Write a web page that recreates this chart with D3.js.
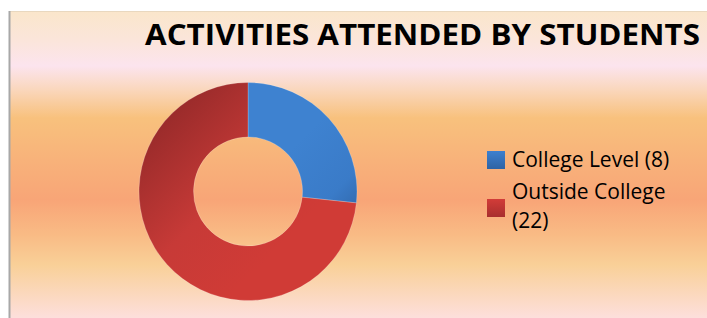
<!DOCTYPE html>
<html>
<head>
<meta charset="utf-8">
<script src="https://cdn.jsdelivr.net/npm/d3@7"></script>
<style>
  html, body { margin: 0; padding: 0; background: #fff; }
  svg { display: block; }
</style>
</head>
<body>
<div id="chart"></div>
<script>
const title = 'ACTIVITIES ATTENDED BY STUDENTS';
const categories = ['College Level', 'Outside College'];
const values = [8, 22];
const colors = [
  ['#3e82d0', '#3a7bc8', '#2c5f9f'],
  ['#942929', '#c73a37', '#d03b36']
];

const width = 707, height = 318;
const cx = 248, cy = 191.5, outerR = 109, innerR = 54.5;

const svg = d3.select('#chart').append('svg')
  .attr('width', width)
  .attr('height', height);

const defs = svg.append('defs');

// background band gradient (absolute y positions)
const bg = defs.append('linearGradient')
  .attr('id', 'bg')
  .attr('gradientUnits', 'userSpaceOnUse')
  .attr('x1', 0).attr('y1', 11).attr('x2', 0).attr('y2', 318);
[[11, '#fae6cb'], [40, '#fbe5da'], [66, '#fce4ee'], [88, '#fad8c0'],
 [118, '#f8c17d'], [160, '#f8b27a'], [200, '#f8a577'], [235, '#f9bb85'],
 [265, '#f9d098'], [318, '#fddfdc']].forEach(s => {
  bg.append('stop').attr('offset', (s[0] - 11) / 307).attr('stop-color', s[1]);
});

// slice gradients, in the pie group's coords (centre at 0,0)
colors.forEach((c, i) => {
  const g = defs.append('linearGradient')
    .attr('id', 'slice' + i)
    .attr('gradientUnits', 'userSpaceOnUse')
    .attr('x1', -outerR).attr('y1', -outerR)
    .attr('x2', outerR).attr('y2', outerR);
  if (i === 0) {
    g.append('stop').attr('offset', 0.5).attr('stop-color', c[0]);
    g.append('stop').attr('offset', 0.7).attr('stop-color', c[1]);
    g.append('stop').attr('offset', 0.85).attr('stop-color', c[2]);
  } else {
    g.append('stop').attr('offset', 0.1).attr('stop-color', c[0]);
    g.append('stop').attr('offset', 0.45).attr('stop-color', c[1]);
    g.append('stop').attr('offset', 0.7).attr('stop-color', c[2]);
  }
});

// chart area
svg.append('rect')
  .attr('x', 9).attr('y', 11)
  .attr('width', width - 9).attr('height', height - 11)
  .attr('fill', 'url(#bg)');
svg.append('line')
  .attr('x1', 9).attr('x2', width).attr('y1', 11.5).attr('y2', 11.5)
  .attr('stroke', '#e9d8bf').attr('stroke-width', 1);
svg.append('line')
  .attr('x1', 9.5).attr('x2', 9.5).attr('y1', 11).attr('y2', height)
  .attr('stroke', '#a8a8a8').attr('stroke-width', 2);

svg.append('text')
  .attr('x', 145).attr('y', 45)
  .attr('font-family', '"Open Sans", "Liberation Sans", sans-serif')
  .attr('font-weight', 'bold')
  .attr('font-size', 28)
  .attr('textLength', 555)
  .attr('lengthAdjust', 'spacingAndGlyphs')
  .attr('fill', '#000')
  .text(title);

const pie = d3.pie().sort(null).value(d => d);
const arc = d3.arc().innerRadius(innerR).outerRadius(outerR);

svg.append('g')
  .attr('transform', `translate(${cx},${cy})`)
  .selectAll('path')
  .data(pie(values))
  .join('path')
  .attr('d', arc)
  .attr('fill', (d, i) => `url(#slice${i})`)
  .attr('stroke', 'rgba(255,255,255,0.35)')
  .attr('stroke-width', 0.6);

// legend
const legend = svg.append('g').attr('transform', 'translate(487,0)');
const legendRows = [
  { lines: [categories[0] + ' (' + values[0] + ')'], y: 167 },
  { lines: [categories[1], '(' + values[1] + ')'], y: 199 }
];
const boxY = [151, 199];
const legendFill = [['#3d80cf', '#2e63a4'], ['#d23c38', '#a82e2e']];
legendFill.forEach((c, i) => {
  const g = defs.append('linearGradient')
    .attr('id', 'leg' + i)
    .attr('x1', 0).attr('y1', 0).attr('x2', 0).attr('y2', 1);
  g.append('stop').attr('offset', 0).attr('stop-color', c[0]);
  g.append('stop').attr('offset', 1).attr('stop-color', c[1]);
});

legendRows.forEach((row, i) => {
  legend.append('rect')
    .attr('x', 0).attr('y', boxY[i])
    .attr('width', 18).attr('height', 18)
    .attr('fill', `url(#leg${i})`);
  const t = legend.append('text')
    .attr('x', 25).attr('y', row.y)
    .attr('font-family', '"Open Sans", "Liberation Sans", sans-serif')
    .attr('font-size', 21)
    .attr('fill', '#000');
  row.lines.forEach((l, j) => {
    t.append('tspan').attr('x', 25).attr('dy', j === 0 ? 0 : 29).text(l);
  });
});
</script>
</body>
</html>
